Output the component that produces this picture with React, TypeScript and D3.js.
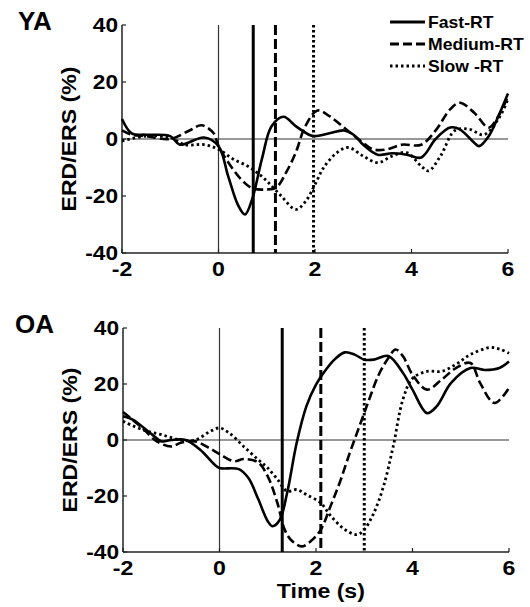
import React from "react";
import * as d3 from "d3";

const xTicks = [-2, 0, 2, 4, 6];
const yTicks = [-40, -20, 0, 20, 40];
const seriesNames = ["Fast-RT", "Medium-RT", "Slow -RT"];

// young adults
const yaFastT = [-2, -1.8, -1.5, -1, -0.8, -0.3, 0, 0.2, 0.4, 0.55, 0.7, 0.9, 1.1, 1.35, 1.6, 1.9, 2.0, 2.3, 2.6, 2.8, 3.0, 3.3, 3.6, 3.9, 4.2, 4.5, 4.8, 5.0, 5.3, 5.4, 5.6, 5.8, 6.0];
const yaFastV = [7, 2, 1.5, 1, -2, 0.5, -2.5, -13, -23, -26.5, -21, -7, 4.5, 7.8, 4.5, 1.3, 1, 2, 3, 1.5, -2, -5.5, -5, -5.5, -6.5, 0, 4, 3.4, -1.3, -2.5, 1, 8, 16];
const yaMedT = [-2, -1.8, -1.5, -1, -0.6, -0.35, -0.1, 0, 0.3, 0.5, 0.7, 1.0, 1.2, 1.4, 1.6, 1.8, 2.05, 2.3, 2.6, 2.9, 3.2, 3.5, 3.8, 4.2, 4.5, 4.8, 5.0, 5.3, 5.6, 5.8, 6.0];
const yaMedV = [3, 1.5, 1, 0, 3, 4.8, 2, -2.5, -10.6, -14.7, -17.3, -17.7, -17, -11.8, -4.8, 4.5, 10, 8, 4, 0, -3.6, -3.6, -2, -2, 3, 10.4, 12.7, 9.2, 4, 8, 15];
const yaSlowT = [-2, -1.5, -1, -0.7, -0.3, 0, 0.3, 0.6, 0.8, 1.0, 1.3, 1.6, 1.8, 2.0, 2.2, 2.5, 2.7, 3.0, 3.3, 3.6, 3.9, 4.2, 4.35, 4.6, 4.9, 5.2, 5.5, 5.8, 6.0];
const yaSlowV = [-0.7, 1, 0.5, -2, -2, -3.6, -7, -9.5, -11.8, -14.7, -20, -24.7, -22, -16, -9.5, -4.2, -3, -6, -8.3, -6, -4.8, -9.5, -11.2, -6, 3, 3.4, 1.5, 7, 14];
const yaRT = [0.72, 1.18, 1.97];

// older adults
const oaFastT = [-2, -1.8, -1.4, -1.2, -1, -0.7, -0.4, -0.1, 0, 0.4, 0.6, 0.8, 1.0, 1.1, 1.25, 1.4, 1.6, 1.8, 2.0, 2.2, 2.4, 2.6, 2.8, 3.0, 3.2, 3.5, 3.8, 4.0, 4.3, 4.5, 4.8, 5.2, 5.5, 5.8, 6.0];
const oaFastV = [8.5, 7.3, 2, -0.5, 0, 0, -3.5, -8.8, -10, -10.4, -13.6, -21, -29, -30.8, -28.5, -19, -1, 12, 19.8, 25, 29, 31.3, 30.5, 28.7, 28.7, 30, 24, 18, 9.6, 12, 20.4, 25.7, 25, 25.7, 28];
const oaMedT = [-2, -1.6, -1.3, -1.0, -0.8, -0.5, -0.2, 0, 0.3, 0.5, 0.8, 1.0, 1.2, 1.35, 1.5, 1.7, 1.9, 2.1, 2.3, 2.5, 2.7, 2.9, 3.1, 3.3, 3.5, 3.65, 3.8, 4.0, 4.3, 4.6, 4.9, 5.2, 5.4, 5.7, 6.0];
const oaMedV = [10, 4.3, -0.5, -2.3, -1, -0.5, -3, -5, -7.6, -6.8, -8, -13, -22.5, -32, -36, -38, -36, -32, -23.7, -14.8, -4.6, 4.9, 14.4, 23.3, 29.3, 32.3, 30, 23.3, 18, 21.5, 25.7, 27.5, 20.4, 13.2, 18.6];
const oaSlowT = [-2, -1.6, -1.2, -0.8, -0.5, -0.2, 0, 0.2, 0.5, 0.8, 1.0, 1.2, 1.4, 1.6, 1.8, 2.1, 2.3, 2.6, 2.85, 3.0, 3.2, 3.4, 3.6, 3.8, 4.0, 4.3, 4.6, 4.9, 5.2, 5.6, 5.8, 6.0];
const oaSlowV = [6.7, 3.7, 1.9, 0, 0, 3, 4.3, 2.5, -2.3, -7, -10, -14, -18.3, -17.7, -19.5, -22.5, -27, -32, -33.8, -32, -26, -16.5, -2.3, 14.4, 22, 24.5, 24.5, 27, 30.5, 33, 32.5, 31];
const oaRT = [1.3, 2.1, 3.0];

const dashes = [null, "9,4", "2.5,3"];
const font = "Liberation Sans, Arial, sans-serif";

// bold text, slightly stretched horizontally like the original figure
const T = ({ x, y, size, sx = 1, rot = 0, anchor = "start", children }: any) => (
  <text
    transform={`translate(${x},${y})${rot ? ` rotate(${rot})` : ""} scale(${sx},1)`}
    textAnchor={anchor}
    fontSize={size}
    fontWeight="bold"
    fontFamily={font}
  >
    {children}
  </text>
);

type PanelProps = {
  title: string;
  top: number;
  left: number;
  h: number;
  series: [number[], number[]][];
  rt: number[];
  showX: boolean;
  legend: boolean;
};

const Panel = ({ title, top, left, h, series, rt, showX, legend }: PanelProps) => {
  const w = 386;
  const x = d3.scaleLinear().domain([-2, 6]).range([left, left + w]);
  const y = d3.scaleLinear().domain([-40, 40]).range([top + h, top]);
  const line = d3
    .line<[number, number]>()
    .x((d) => x(d[0]))
    .y((d) => y(d[1]))
    .curve(d3.curveCatmullRom.alpha(0.5));

  return (
    <g>
      <T x={title === "YA" ? 18 : 15} y={top + 5} size={26}>
        {title}
      </T>
      {/* zero lines */}
      <line x1={x(-2)} x2={x(6)} y1={y(0)} y2={y(0)} stroke="#333" strokeWidth={1.2} />
      <line x1={x(0)} x2={x(0)} y1={y(40)} y2={y(-40)} stroke="#333" strokeWidth={1.2} />
      {/* axes */}
      <line x1={x(-2)} x2={x(-2)} y1={y(40)} y2={y(-40)} stroke="#222" strokeWidth={1.5} />
      <line x1={x(-2)} x2={x(6)} y1={y(-40)} y2={y(-40)} stroke="#222" strokeWidth={1.5} />
      {xTicks.map((t) => (
        <g key={t}>
          <line x1={x(t)} x2={x(t)} y1={y(-40)} y2={y(-40) - 4} stroke="#222" strokeWidth={1.2} />
          <T x={x(t)} y={y(-40) + 23} size={21} sx={1.1} anchor="middle">
            {t}
          </T>
        </g>
      ))}
      {yTicks.map((t) => (
        <g key={t}>
          <line x1={x(-2)} x2={x(-2) + 4} y1={y(t)} y2={y(t)} stroke="#222" strokeWidth={1.2} />
          <T x={x(-2) - 4} y={y(t) + 7} size={21} sx={1.08} anchor="end">
            {t}
          </T>
        </g>
      ))}
      <T x={left - 46} y={y(0)} size={21} sx={1.1} rot={-90} anchor="middle">
        ERD/ERS (%)
      </T>
      {showX && (
        <T x={x(2.1)} y={top + h + 46} size={21} sx={1.1} anchor="middle">
          Time (s)
        </T>
      )}
      {/* reaction time markers */}
      {rt.map((t, i) => (
        <line
          key={i}
          x1={x(t)}
          x2={x(t)}
          y1={y(40)}
          y2={y(-40)}
          stroke="#000"
          strokeWidth={3}
          strokeDasharray={i === 1 ? "10,4" : i === 2 ? "2.5,2.5" : undefined}
        />
      ))}
      {series.map(([ts, vs], i) => (
        <path
          key={i}
          d={line(ts.map((t, j) => [t, vs[j]] as [number, number])) || ""}
          fill="none"
          stroke="#000"
          strokeWidth={i === 2 ? 2.8 : 2.6}
          strokeDasharray={dashes[i] || undefined}
        />
      ))}
      {legend &&
        seriesNames.map((n, i) => (
          <g key={n} transform={`translate(390,${22 + i * 22})`}>
            <line x1={0} x2={35} y1={0} y2={0} stroke="#000" strokeWidth={3} strokeDasharray={dashes[i] || undefined} />
            <T x={38} y={6} size={16} sx={1.1}>
              {n}
            </T>
          </g>
        ))}
    </g>
  );
};

const App = () => {
  return (
    <svg
      width={530}
      height={607}
      style={{ position: "absolute", left: 0, top: 0, background: "#fff" }}
    >
      <Panel
        title="YA"
        top={25}
        left={122}
        h={228}
        series={[
          [yaFastT, yaFastV],
          [yaMedT, yaMedV],
          [yaSlowT, yaSlowV],
        ]}
        rt={yaRT}
        showX={false}
        legend={true}
      />
      <Panel
        title="OA"
        top={328}
        left={123}
        h={224}
        series={[
          [oaFastT, oaFastV],
          [oaMedT, oaMedV],
          [oaSlowT, oaSlowV],
        ]}
        rt={oaRT}
        showX={true}
        legend={false}
      />
    </svg>
  );
};

export default App;
